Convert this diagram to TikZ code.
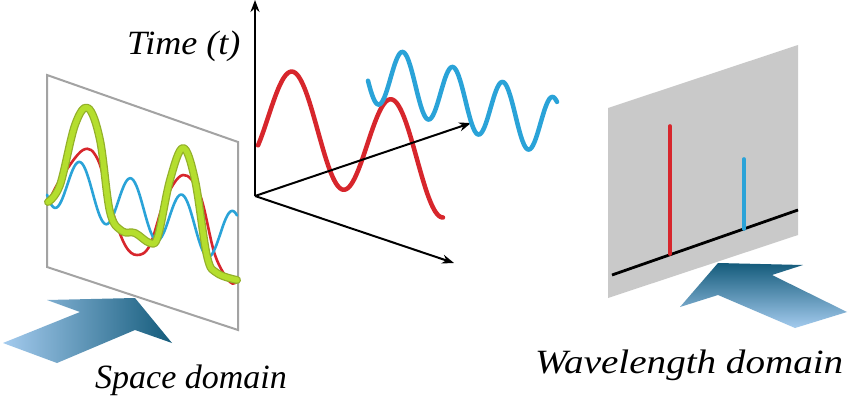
\documentclass[tikz,border=0pt]{standalone}
\usepackage{fontspec}
\usepackage{graphicx}
\setmainfont{Liberation Serif}
\usetikzlibrary{arrows.meta}
\definecolor{wred}{HTML}{D7262C}
\definecolor{wblue}{HTML}{2AA3D8}
\definecolor{wgreen}{HTML}{B4DE2E}
\definecolor{wolive}{HTML}{93B02A}
\definecolor{framegray}{HTML}{A3A3A3}
\definecolor{panelgray}{HTML}{C9C9C9}
\definecolor{arrdark}{HTML}{145B7B}
\definecolor{arrlight}{HTML}{A4CBEE}
\tikzset{
  axarrow/.style={line width=2pt,-{Stealth[length=12pt,width=9pt]}},
  wave/.style={line width=4.5pt,line cap=round,line join=round},
  thinwave/.style={line width=2.6pt,line cap=round,line join=round},
  label/.style={font=\fontsize{34}{38}\selectfont\itshape,anchor=base west,inner sep=0pt},
}
\begin{document}
\begin{tikzpicture}[x=1pt,y=-1pt]
\path[fill=white,use as bounding box] (0,0) rectangle (850,406);

% ---------- left panel (space domain)
\draw[framegray,line width=2pt,line join=miter]
  (47,75) -- (238,142) -- (238,330) -- (47,267) -- cycle;
\draw[wred,thinwave] plot[smooth,tension=0.6] coordinates
  {(48,203) (60,180) (83,150) (98,160) (112,210) (125,245) (137,255) (150,245) (165,200) (183,175) (200,195) (215,255) (230,282) (237,281)};
\draw[wblue,thinwave] plot[domain=47:237,samples=120,smooth]
  (\x,{189+0.32*(\x-80)-27*cos(7.0588*(\x-80))});
\draw[wolive,line width=8pt,line cap=round,line join=round] plot[smooth,tension=0.6] coordinates
  {(48,202) (60,185) (75,125) (88,108) (100,140) (110,212) (122,231) (135,233) (150,243) (158,236) (170,180) (183,148) (195,180) (207,256) (217,273) (237,280)};
\draw[wgreen,line width=5.5pt,line cap=round,line join=round] plot[smooth,tension=0.6] coordinates
  {(48,202) (60,185) (75,125) (88,108) (100,140) (110,212) (122,231) (135,233) (150,243) (158,236) (170,180) (183,148) (195,180) (207,256) (217,273) (237,280)};

% left arrow
\shade[left color=arrlight,right color=arrdark]
  (135,298) -- (172,343) -- (135,330) -- (57,363) -- (3,343) -- (80,312) -- (47,300) -- cycle;

\node[label] (space) at (95,388) {Space domain};

% ---------- middle axes and waves
\coordinate (O) at (255,196);
\coordinate (Ytop) at (255,0);
\coordinate (Zend) at (471,123);
\coordinate (Xend) at (454,263);
\draw[wred,wave] plot[domain=258:443,samples=120,smooth]
  (\x,{131+0.28*(\x-319)-52*cos(3.6364*(\x-293))});
\draw[axarrow] (O) -- (Ytop);
\draw[axarrow] (O) -- (Zend);
\draw[axarrow] (O) -- (Xend);
\draw[wblue,wave] plot[domain=368:557,samples=150,smooth]
  (\x,{82+0.3*(\x-403)-30*cos(7.2*(\x-403))});

\node[label] (time) at (127,55) {\scalebox{1.06}[1]{Time (t)}};

% ---------- right panel (wavelength domain)
\fill[panelgray] (608,108) -- (798,45) -- (798,235) -- (608,298) -- cycle;
\coordinate (B1) at (612,275);
\coordinate (B2) at (798,210);
\draw[black,line width=2.8pt] (B1) -- (B2);
\draw[wred,line width=3.6pt,line cap=round] (670,254) -- (670,126);
\draw[wblue,line width=3.6pt,line cap=round] (744,229) -- (744,159);

% right arrow
\shade[top color=arrdark,bottom color=arrlight]
  (718,263) -- (803,265) -- (772,275) -- (847,312) -- (795,328) -- (718,295) -- (680,307) -- cycle;

\node[label] (wave) at (535,373) {\scalebox{1.15}[1]{Wavelength domain}};
\end{tikzpicture}
\end{document}
